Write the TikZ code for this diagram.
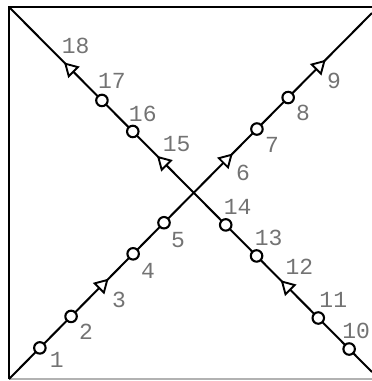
\documentclass[tikz,border=0pt]{standalone}
\usepackage{fontspec}
\setmonofont{Liberation Mono}
\usetikzlibrary{shapes.geometric,calc}
\tikzset{
  frame/.style={line width=2.8pt},
  base/.style={line width=2pt, black!30},
  ln/.style={line width=2pt},
  dot/.style={circle, draw, fill=white, line width=2.1pt, minimum size=11.5pt, inner sep=0pt},
  tri/.style={regular polygon, regular polygon sides=3, draw, fill=white,
              line width=1.9pt, minimum size=15pt, inner sep=0pt},
  lbl/.style={font=\ttfamily\fontsize{23}{23}\selectfont, text=black!55, inner sep=0pt},
}

\begin{document}
\begin{tikzpicture}[x=1pt, y=-1pt]
    \useasboundingbox (0,0) rectangle (372,381);
    \coordinate (tl) at (9,7);
    \coordinate (tr) at (372,7);
    \coordinate (bl) at (9,379);
    \coordinate (br) at (372,379);
    \coordinate (ae) at (372,13);
    \coordinate (be) at (372,372);
    \draw[base] (bl) -- (br);
    \draw[frame] (bl) -- (tl) -- (tr);
    % rising line, points 1..9
    \draw[ln] (bl) -- (ae)
      node[dot,pos=0.085] (n1) {}
      node[dot,pos=0.171] (n2) {}
      node[tri,pos=0.256,rotate=-45] (n3) {}
      node[dot,pos=0.342] (n4) {}
      node[dot,pos=0.427] (n5) {}
      node[tri,pos=0.598,rotate=-45] (n6) {}
      node[dot,pos=0.683] (n7) {}
      node[dot,pos=0.769] (n8) {}
      node[tri,pos=0.854,rotate=-45] (n9) {};
    % falling line, points 10..18
    \draw[ln] (tl) -- (be)
      node[tri,pos=0.170,rotate=45] (n18) {}
      node[dot,pos=0.256] (n17) {}
      node[dot,pos=0.341] (n16) {}
      node[tri,pos=0.426,rotate=45] (n15) {}
      node[dot,pos=0.597] (n14) {}
      node[dot,pos=0.682] (n13) {}
      node[tri,pos=0.767,rotate=45] (n12) {}
      node[dot,pos=0.852] (n11) {}
      node[dot,pos=0.937] (n10) {};
    \node[lbl] at ($(n1)+(17,12)$) {1};
    \node[lbl] at ($(n2)+(15,15)$) {2};
    \node[lbl] at ($(n3)+(17,15)$) {3};
    \node[lbl] at ($(n4)+(15,17)$) {4};
    \node[lbl] at ($(n5)+(14,17)$) {5};
    \node[lbl] at ($(n6)+(17,13)$) {6};
    \node[lbl] at ($(n7)+(15,16)$) {7};
    \node[lbl] at ($(n8)+(15,15)$) {8};
    \node[lbl] at ($(n9)+(15,14)$) {9};
    \node[lbl] at ($(n10)+(7,-18)$) {10};
    \node[lbl] at ($(n11)+(15,-18)$) {11};
    \node[lbl] at ($(n12)+(12,-20)$) {12};
    \node[lbl] at ($(n13)+(12,-18)$) {13};
    \node[lbl] at ($(n14)+(12,-18)$) {14};
    \node[lbl] at ($(n15)+(13,-18)$) {15};
    \node[lbl] at ($(n16)+(10,-18)$) {16};
    \node[lbl] at ($(n17)+(10,-20)$) {17};
    \node[lbl] at ($(n18)+(5,-23)$) {18};
\end{tikzpicture}
\end{document}
